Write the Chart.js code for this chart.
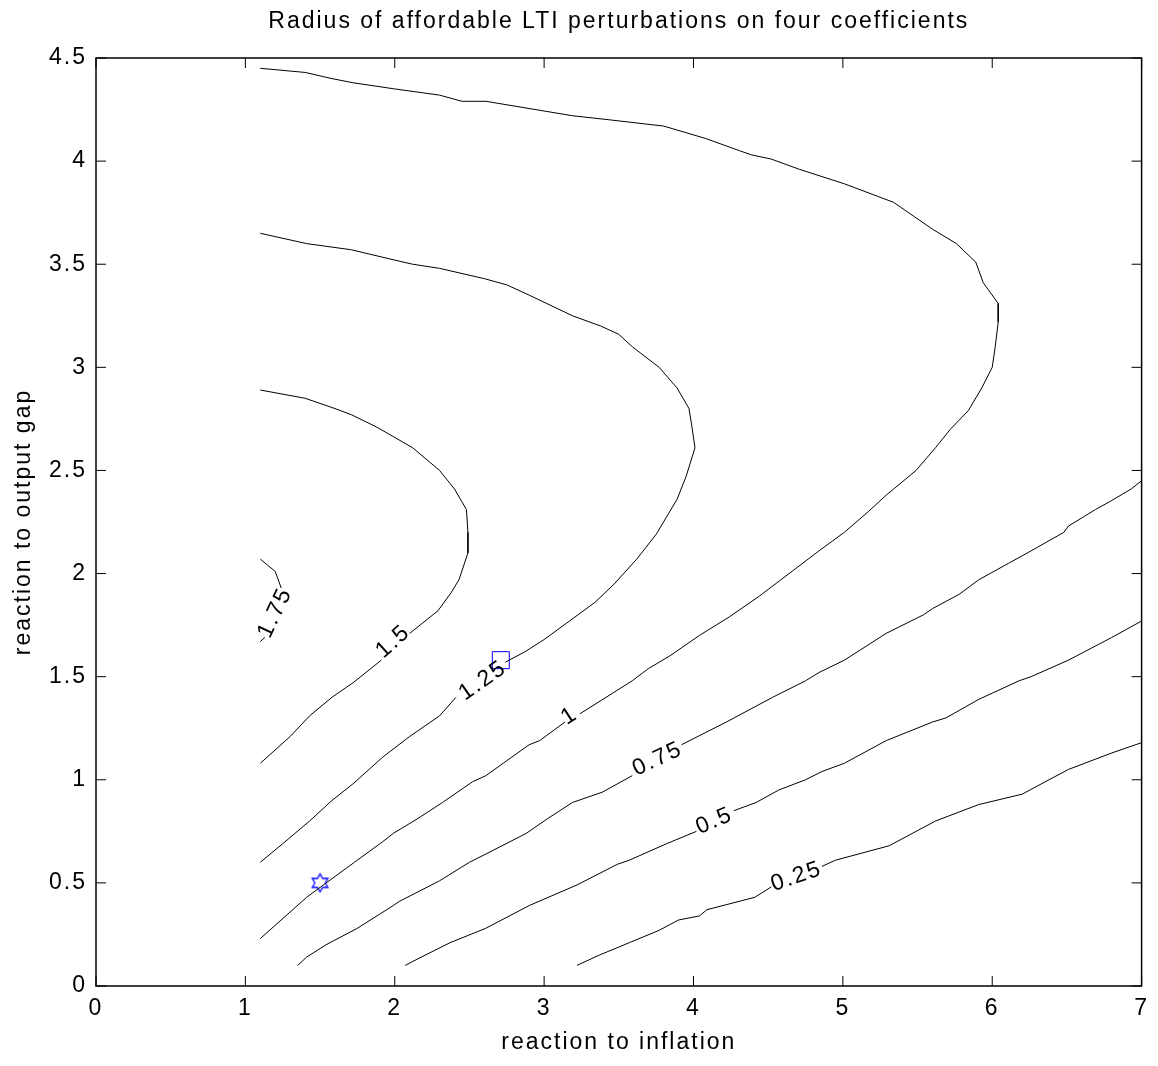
<!DOCTYPE html>
<html>
<head>
<meta charset="utf-8">
<script src="https://cdn.jsdelivr.net/npm/chart.js@4.4.1/dist/chart.umd.min.js"></script>
<style>
  html, body { margin: 0; padding: 0; background: #fff; }
  canvas { display: block; }
</style>
</head>
<body>
<canvas id="c" width="1158" height="1066"></canvas>
<script>
// contour levels, [x, y] in data units; null = gap for the inline label
const level175 = [[1.1,2.07],[1.2,2.01],[1.24,1.93], null, [1.13,1.69],[1.1,1.67]];
const level150 = [[1.1,2.89],[1.4,2.85],[1.6,2.80],[1.71,2.77],[1.88,2.71],[2.0,2.66],[2.12,2.61],[2.3,2.5],
  [2.4,2.41],[2.48,2.31],[2.49,2.2],[2.49,2.1],[2.43,1.97],[2.38,1.91],[2.29,1.82],[2.1,1.71], null,
  [1.91,1.58],[1.72,1.47],[1.58,1.40],[1.43,1.31],[1.3,1.21],[1.1,1.08]];
const level125 = [[1.1,3.65],[1.41,3.6],[1.71,3.57],[2.0,3.52],[2.12,3.5],[2.3,3.48],[2.6,3.43],[2.75,3.4],
  [2.9,3.35],[3.19,3.25],[3.38,3.2],[3.5,3.16],[3.59,3.1],[3.77,3.0],[3.89,2.9],[3.97,2.8],[3.99,2.71],
  [4.01,2.61],[3.95,2.47],[3.89,2.36],[3.75,2.19],[3.62,2.07],[3.47,1.95],[3.34,1.86],[3.17,1.77],
  [3.0,1.68],[2.87,1.62],[2.74,1.57], null,
  [2.41,1.4],[2.3,1.31],[2.1,1.21],[1.92,1.11],[1.72,0.98],[1.58,0.9],[1.43,0.8],[1.25,0.69],[1.1,0.6]];
const level100 = [[1.1,4.45],[1.4,4.43],[1.58,4.4],[1.72,4.38],[2.0,4.35],[2.3,4.32],[2.45,4.29],[2.61,4.29],
  [3.19,4.22],[3.44,4.2],[3.8,4.17],[4.08,4.11],[4.31,4.05],[4.39,4.03],[4.52,4.01],[4.71,3.96],[5.01,3.89],
  [5.34,3.8],[5.6,3.67],[5.76,3.6],[5.89,3.51],[5.94,3.41],[6.04,3.31],[6.04,3.22],[6.02,3.1],[6.0,3.0],
  [5.93,2.9],[5.84,2.79],[5.72,2.7],[5.62,2.61],[5.49,2.5],[5.34,2.41],[5.29,2.38],[5.17,2.3],[5.01,2.2],
  [4.84,2.11],[4.64,2.0],[4.44,1.89],[4.24,1.79],[4.04,1.7],[3.84,1.6],[3.7,1.54],[3.59,1.48],[3.24,1.32], null,
  [3.14,1.28],[2.97,1.19],[2.9,1.17],[2.61,1.02],[2.52,0.99],[2.32,0.89],[2.15,0.81],[1.99,0.74],[1.92,0.7],
  [1.73,0.6],[1.56,0.51],[1.41,0.43],[1.1,0.23]];
const level075 = [[1.35,0.1],[1.41,0.14],[1.54,0.2],[1.75,0.28],[1.99,0.39],[2.03,0.41],[2.3,0.51],[2.5,0.6],
  [2.61,0.64],[2.88,0.74],[3.02,0.81],[3.19,0.89],[3.39,0.94],[3.59,1.02], null,
  [3.92,1.17],[4.22,1.28],[4.53,1.4],[4.75,1.48],[4.84,1.52],[5.01,1.58],[5.29,1.71],[5.54,1.8],[5.6,1.83],
  [5.78,1.9],[5.91,1.97],[6.11,2.05],[6.26,2.11],[6.48,2.2],[6.51,2.23],[6.69,2.31],[6.79,2.35],[6.93,2.41],[7.0,2.45]];
const level050 = [[2.07,0.1],[2.15,0.13],[2.37,0.21],[2.61,0.28],[2.9,0.39],[3.22,0.49],[3.49,0.59],[3.57,0.61],
  [3.82,0.69],[4.02,0.75], null,
  [4.27,0.85],[4.42,0.89],[4.57,0.95],[4.75,1.0],[4.86,1.04],[5.01,1.08],[5.29,1.19],[5.6,1.28],[5.69,1.3],
  [5.91,1.39],[6.18,1.48],[6.26,1.5],[6.51,1.58],[6.8,1.69],[7.0,1.77]];
const level025 = [[3.22,0.1],[3.37,0.15],[3.57,0.21],[3.77,0.27],[3.9,0.32],[4.04,0.34],[4.09,0.37],[4.41,0.43],
  [4.52,0.48], null,
  [4.86,0.58],[4.95,0.61],[5.31,0.68],[5.62,0.8],[5.91,0.88],[6.2,0.93],[6.38,1.0],[6.51,1.05],[6.8,1.13],[7.0,1.18]];

// inline contour labels
const labelText  = ['1.75', '1.5', '1.25', '1', '0.75', '0.5', '0.25'];
const labelX     = [1.2, 1.99, 2.59, 3.17, 3.76, 4.14, 4.69];
const labelY     = [1.81, 1.67, 1.48, 1.31, 1.10, 0.80, 0.53];
const labelAngle = [-65, -42, -35, -33, -25, -23, -19];

// the two rules marked on the map
const starPoint = [1.5, 0.5];
const squarePoint = [2.71, 1.58];

const xTicks = [0, 1, 2, 3, 4, 5, 6, 7];
const xTickLabels = ['0', '1', '2', '3', '4', '5', '6', '7'];
const yTicks = [0, 0.5, 1, 1.5, 2, 2.5, 3, 3.5, 4, 4.5];
const yTickLabels = ['0', '0.5', '1', '1.5', '2', '2.5', '3', '3.5', '4', '4.5'];
const titleText = 'Radius of affordable LTI perturbations on four coefficients';

const FONT = '"Liberation Sans", Arial, sans-serif';
const SPACING = '2px';
Chart.defaults.color = '#000';
Chart.defaults.font.family = FONT;
Chart.defaults.font.size = 23;

function toPts(arr) {
  var out = [];
  arr.forEach(function(p, i) {
    if (p) out.push({x: p[0], y: p[1]});
    else out.push({x: arr[i - 1][0], y: null});
  });
  return out;
}

function hexagram(r) {
  var c = document.createElement('canvas');
  var s = Math.ceil(r * 2 + 3);
  c.width = c.height = s;
  var g = c.getContext('2d');
  g.beginPath();
  for (var k = 0; k < 12; k++) {
    var a = -Math.PI / 2 + k * Math.PI / 6;
    var rr = (k % 2) ? r / Math.sqrt(3) : r;
    var px = s / 2 + rr * Math.cos(a), py = s / 2 + rr * Math.sin(a);
    if (k === 0) g.moveTo(px, py); else g.lineTo(px, py);
  }
  g.closePath();
  g.strokeStyle = '#0000ff';
  g.lineWidth = 1.3;
  g.stroke();
  return c;
}

var contours = [level175, level150, level125, level100, level075, level050, level025];
var datasets = contours.map(function(lv) {
  return {
    data: toPts(lv), showLine: true, borderColor: '#000', borderWidth: 1,
    pointRadius: 0, tension: 0, spanGaps: false, fill: false
  };
});
datasets.push({
  data: [{x: starPoint[0], y: starPoint[1]}], pointStyle: hexagram(9), pointRadius: 9
});
datasets.push({
  data: [{x: squarePoint[0], y: squarePoint[1]}], pointStyle: 'rect', pointRadius: 12,
  borderColor: '#0000ff', backgroundColor: 'rgba(0,0,0,0)', borderWidth: 1
});

// box with inward ticks on all four sides, the title and the contour labels
const framePlugin = {
  id: 'frame',
  beforeUpdate(chart) { chart.ctx.letterSpacing = SPACING; },
  beforeDraw(chart) { chart.ctx.letterSpacing = SPACING; },
  afterDatasetsDraw(chart) {
    const ctx = chart.ctx, a = chart.chartArea;
    const xs = chart.scales.x, ys = chart.scales.y;
    ctx.save();
    ctx.fillStyle = '#000';
    ctx.font = '23px ' + FONT;
    ctx.textAlign = 'center';
    ctx.textBaseline = 'middle';
    ctx.fillText(titleText, (a.left + a.right) / 2, 22);
    labelText.forEach(function(t, i) {
      ctx.save();
      ctx.translate(xs.getPixelForValue(labelX[i]), ys.getPixelForValue(labelY[i]));
      ctx.rotate(labelAngle[i] * Math.PI / 180);
      ctx.fillText(t, 0, 0);
      ctx.restore();
    });
    ctx.strokeStyle = '#000';
    ctx.lineWidth = 1.5;
    ctx.strokeRect(a.left, a.top, a.right - a.left, a.bottom - a.top);
    ctx.lineWidth = 1;
    ctx.beginPath();
    xTicks.forEach(function(v) {
      const p = xs.getPixelForValue(v);
      ctx.moveTo(p, a.bottom); ctx.lineTo(p, a.bottom - 10);
      ctx.moveTo(p, a.top); ctx.lineTo(p, a.top + 10);
    });
    yTicks.forEach(function(v) {
      const p = ys.getPixelForValue(v);
      ctx.moveTo(a.left, p); ctx.lineTo(a.left + 10, p);
      ctx.moveTo(a.right, p); ctx.lineTo(a.right - 10, p);
    });
    ctx.stroke();
    ctx.restore();
  }
};

new Chart(document.getElementById('c'), {
  type: 'scatter',
  data: { datasets: datasets },
  plugins: [framePlugin],
  options: {
    responsive: false,
    animation: false,
    events: [],
    layout: { padding: { top: 58, right: 15, bottom: 0, left: 0 } },
    plugins: {
      legend: { display: false },
      tooltip: { enabled: false },
      title: { display: false }
    },
    scales: {
      x: {
        type: 'linear', min: 0, max: 7,
        grid: { display: false, drawTicks: false }, border: { display: false },
        afterBuildTicks: function(s) { s.ticks = xTicks.map(function(v) { return {value: v}; }); },
        afterFit: function(s) { s.height = 80; },
        ticks: { padding: 9, maxRotation: 0, autoSkip: false,
                 callback: function(v, i) { return xTickLabels[i]; } },
        title: { display: true, text: 'reaction to inflation', padding: { top: 0, bottom: 10 } }
      },
      y: {
        type: 'linear', min: 0, max: 4.5,
        grid: { display: false, drawTicks: false }, border: { display: false },
        afterBuildTicks: function(s) { s.ticks = yTicks.map(function(v) { return {value: v}; }); },
        afterFit: function(s) { s.width = 96; },
        ticks: { padding: 9, autoSkip: false,
                 callback: function(v, i) { return yTickLabels[i]; } },
        title: { display: true, text: 'reaction to output gap', padding: { top: 10, bottom: 0 } }
      }
    }
  }
});
</script>
</body>
</html>
